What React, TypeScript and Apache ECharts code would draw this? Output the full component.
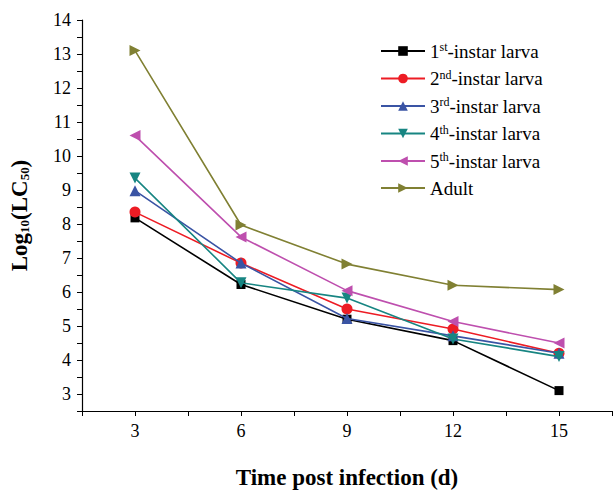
import React, { useEffect, useRef } from "react";
import * as echarts from "echarts";

const days = [3, 6, 9, 12, 15];
const instar1 = [8.18, 6.22, 5.2, 4.57, 3.1];
const instar2 = [8.35, 6.85, 5.5, 4.91, 4.2];
const instar3 = [8.98, 6.85, 5.22, 4.71, 4.2];
const instar4 = [9.35, 6.27, 5.82, 4.62, 4.1];
const instar5 = [10.6, 7.62, 6.04, 5.13, 4.5];
const adult = [13.1, 7.97, 6.82, 6.2, 6.07];

const seriesNames = ["1st", "2nd", "3rd", "4th", "5th", "Adult"];
const legendLabels = [
  "{n|1}{s|st}{n|-instar larva}",
  "{n|2}{s|nd}{n|-instar larva}",
  "{n|3}{s|rd}{n|-instar larva}",
  "{n|4}{s|th}{n|-instar larva}",
  "{n|5}{s|th}{n|-instar larva}",
  "{n|Adult}",
];
const colors = ["#000000", "#ED1C24", "#3A54A4", "#178582", "#BE4FAE", "#808033"];
const symbols = ["rect", "circle", "triangle", "triangle", "triangle", "triangle"];
const rotations = [0, 0, 0, 180, 90, -90];
const values = [instar1, instar2, instar3, instar4, instar5, adult];

const FONT = "Liberation Serif";

export default function App() {
  const ref = useRef<HTMLDivElement>(null);
  useEffect(() => {
    if (!ref.current) return;
    const chart = echarts.init(ref.current, null, { renderer: "svg" });
    const labelMap: Record<string, string> = {};
    seriesNames.forEach((n, i) => (labelMap[n] = legendLabels[i]));
    chart.setOption({
      animation: false,
      backgroundColor: "#ffffff",
      textStyle: { fontFamily: FONT },
      grid: { left: 81, right: -4, top: 20, bottom: 81 },
      legend: {
        orient: "vertical",
        left: 375,
        top: 36,
        itemWidth: 44,
        itemHeight: 12,
        itemGap: 8,
        data: seriesNames,
        formatter: (name: string) => labelMap[name],
        textStyle: {
          fontFamily: FONT,
          fontSize: 19,
          color: "#000",
          rich: {
            n: { fontFamily: FONT, fontSize: 19, color: "#000" },
            s: { fontFamily: FONT, fontSize: 12, color: "#000", verticalAlign: "top", padding: [0, 0, 8, 0] },
          },
        },
      },
      xAxis: {
        type: "value",
        min: 1.5,
        max: 16.5,
        interval: 1.5,
        splitLine: { show: false },
        axisLine: { lineStyle: { color: "#000", width: 1.2 } },
        axisTick: { length: 5, lineStyle: { color: "#000" } },
        axisLabel: {
          fontFamily: FONT,
          fontSize: 18,
          color: "#000",
          margin: 11,
          formatter: (v: number) => (Math.abs(v % 3) < 1e-6 ? String(v) : ""),
        },
        name: "Time post infection (d)",
        nameLocation: "middle",
        nameGap: 55,
        nameTextStyle: { fontFamily: FONT, fontSize: 23, fontWeight: "bold", color: "#000" },
      },
      yAxis: {
        type: "value",
        min: 2.5,
        max: 14,
        interval: 0.5,
        splitLine: { show: false },
        axisLine: { show: true, lineStyle: { color: "#000", width: 1.2 } },
        axisTick: { show: true, length: 5, lineStyle: { color: "#000" } },
        axisLabel: {
          fontFamily: FONT,
          fontSize: 18,
          color: "#000",
          margin: 11,
          formatter: (v: number) => (Math.abs(v % 1) < 1e-6 ? String(v) : ""),
        },
        name: "{b|Log}{sb|10}{b|(LC}{sb|50}{b|)}",
        nameLocation: "middle",
        nameGap: 51,
        nameTextStyle: {
          fontFamily: FONT,
          fontSize: 23,
          fontWeight: "bold",
          color: "#000",
          rich: {
            b: { fontFamily: FONT, fontSize: 23, fontWeight: "bold", color: "#000" },
            sb: { fontFamily: FONT, fontSize: 13, fontWeight: "bold", color: "#000", verticalAlign: "bottom", padding: [10, 0, 0, 0] },
          },
        },
      },
      series: seriesNames.map((n, i) => ({
        name: n,
        type: "line",
        data: days.map((d, j) => [d, values[i][j]]),
        symbol: symbols[i],
        symbolSize: i === 0 ? 9 : 11,
        symbolRotate: rotations[i],
        lineStyle: { color: colors[i], width: 1.6 },
        itemStyle: { color: colors[i] },
        z: 2 + i,
      })),
    });
    return () => chart.dispose();
  }, []);
  return <div ref={ref} style={{ width: 615, height: 494, position: "absolute", left: 0, top: 0 }} />;
}
